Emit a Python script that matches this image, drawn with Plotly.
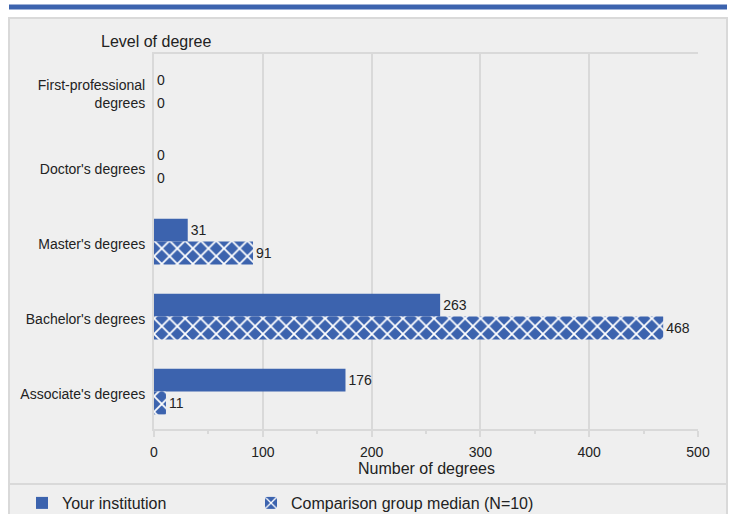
import plotly.graph_objects as go

categories = ["First-professional<br>degrees", "Doctor's degrees", "Master's degrees",
              "Bachelor's degrees", "Associate's degrees"]
your_institution = [0, 0, 31, 263, 176]
comparison_median = [0, 0, 91, 468, 11]
x_ticks = [0, 100, 200, 300, 400, 500]

BLUE = "#3c63ae"
GRID = "#d9d9d9"
PANEL = "#efefef"
TXT = "#222222"
FONT = "Liberation Sans, Arial, sans-serif"

W, H = 737, 514
L, R, T, B = 154, 698, 54, 429


def px_x(p):
    return (p - L) / (R - L)


def px_y(p):
    return (B - p) / (B - T)


fig = go.Figure()
fig.add_trace(go.Bar(
    y=categories, x=your_institution, orientation="h", name="Your institution",
    marker=dict(color=BLUE, line=dict(width=0)),
    text=[str(v) for v in your_institution], textposition="outside",
    textfont=dict(size=14, color=TXT, family=FONT), cliponaxis=False,
    legend="legend",
))
fig.add_trace(go.Bar(
    y=categories, x=comparison_median, orientation="h", name="Comparison group median (N=10)",
    marker=dict(color=BLUE, line=dict(width=0),
                pattern=dict(shape="x", fgcolor="white", bgcolor=BLUE, size=11,
                             solidity=0.3, fgopacity=1)),
    text=[str(v) for v in comparison_median], textposition="outside",
    textfont=dict(size=14, color=TXT, family=FONT), cliponaxis=False,
    legend="legend2",
))

shapes = [
    dict(type="rect", xref="paper", yref="paper", x0=px_x(9), x1=px_x(727), y0=px_y(18), y1=px_y(540),
         fillcolor=PANEL, line=dict(color=GRID, width=2), layer="below"),
    dict(type="line", xref="paper", yref="paper", x0=px_x(9), x1=px_x(727), y0=px_y(484), y1=px_y(484),
         line=dict(color=GRID, width=2), layer="below"),
    dict(type="rect", xref="paper", yref="paper", x0=px_x(9), x1=px_x(727), y0=px_y(4.5), y1=px_y(9.5),
         fillcolor=BLUE, line=dict(width=0), layer="below"),
]

legend_common = dict(orientation="h", xanchor="left", yanchor="middle",
                     bgcolor="rgba(0,0,0,0)", font=dict(size=16, color=TXT, family=FONT))

fig.update_layout(
    width=W, height=H,
    margin=dict(l=L, r=W - R, t=T, b=H - B, pad=0, autoexpand=False),
    paper_bgcolor="white", plot_bgcolor=PANEL,
    font=dict(family=FONT, size=14, color=TXT),
    barmode="group", bargap=0.39, bargroupgap=0,
    showlegend=True,
    legend=dict(x=px_x(22), y=px_y(503), **legend_common),
    legend2=dict(x=px_x(251), y=px_y(503), **legend_common),
    shapes=shapes,
    annotations=[
        dict(text="Level of degree", xref="paper", yref="paper", x=px_x(99), y=px_y(41),
             xanchor="left", yanchor="middle", showarrow=False, font=dict(size=16, color=TXT)),
        dict(text="Number of degrees", xref="paper", yref="paper", x=0.5, y=px_y(468),
             xanchor="center", yanchor="middle", showarrow=False, font=dict(size=16, color=TXT)),
    ],
)
fig.update_xaxes(
    range=[0, 500], tickvals=x_ticks, ticktext=[str(v) for v in x_ticks],
    showgrid=True, gridcolor=GRID, gridwidth=2, zeroline=False,
    showline=True, linecolor=GRID, linewidth=2, mirror=True,
    ticks="outside", ticklen=6, tickcolor=GRID, tickwidth=2, ticklabelstandoff=3,
    minor=dict(dtick=50, ticks="outside", ticklen=3, tickcolor=GRID, tickwidth=2, showgrid=False),
    tickfont=dict(size=14, color=TXT), fixedrange=True,
)
fig.update_yaxes(
    autorange="reversed", categoryorder="array", categoryarray=categories,
    showline=True, linecolor=GRID, linewidth=2, showgrid=False,
    ticks="", ticklabelstandoff=4, ticklabelshift=-3,
    tickfont=dict(size=14, color=TXT), fixedrange=True,
)

fig.write_html("out.html", config={"displayModeBar": False},
               post_script="document.body.style.margin='0';document.body.style.overflow='hidden';")
